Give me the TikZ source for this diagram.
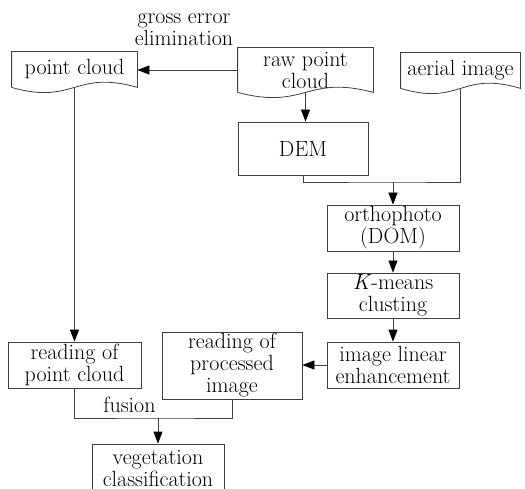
\documentclass[tikz,border=0pt]{standalone}
\usetikzlibrary{arrows.meta,calc}

% document shape: straight top, wavy bottom
\newcommand\docwave[1]{%
  \draw (#1.south west) -- (#1.north west) -- (#1.north east) -- (#1.south east)
    .. controls ($(#1.south)+(0,-18)$) and ($(#1.south)+(0,18)$) .. (#1.south west);}

\begin{document}
\begin{tikzpicture}[
    x=1pt, y=-1pt,
    >={Triangle[length=12pt,width=9pt,color=black]},
    line width=0.8pt,
    color=black!75,
    every node/.style={text=black, font=\fontsize{22}{22}\selectfont, align=center, inner sep=1pt},
    box/.style={draw, rectangle},
    lbl/.style={}
]
  \useasboundingbox (0,0) rectangle (525,489);

  % documents
  \node[minimum width=125, minimum height=35] (pc) at (74.5,69.5) {point cloud};
  \node[minimum width=135, minimum height=44] (raw) at (305.5,70) {raw point\\cloud};
  \node[minimum width=119, minimum height=35] (aerial) at (460.5,70.5) {aerial image};
  \docwave{pc}
  \docwave{raw}
  \docwave{aerial}

  % boxes
  \node[box, minimum width=130, minimum height=53] (DEM) at (303,148.5) {DEM};
  \node[box, minimum width=132, minimum height=46] (ortho) at (393,228) {orthophoto\\(DOM)};
  \node[box, minimum width=132, minimum height=45] (kmeans) at (393,295.5) {\textit{K}-means\\clusting};
  \node[box, minimum width=132, minimum height=46] (enh) at (393,365) {image linear\\enhancement};
  \node[box, minimum width=140, minimum height=67] (proc) at (232,365.5) {reading of\\processed\\image};
  \node[box, minimum width=133, minimum height=46] (rpc) at (74.5,365) {reading of\\point cloud};
  \node[box, minimum width=132, minimum height=48] (veg) at (158,468) {vegetation\\classification};

  % labels
  \node[lbl] (gross) at (184,30) {gross error\\elimination};
  \node[lbl] (fusion) at (129.5,405) {fusion};

  % edges
  \coordinate (jn) at (393,182);
  \coordinate (fu) at (158,418);
  \draw[->] (raw.west) -- (pc.east |- raw.west);
  \draw[->] (raw.south) -- (raw.south |- DEM.north);
  \draw (DEM.south) |- (jn) -| (aerial.south);
  \draw[->] (jn) -- (ortho.north);
  \draw[->] (ortho.south) -- (kmeans.north);
  \draw[->] (kmeans.south) -- (enh.north);
  \draw[->] (enh.west) -- (proc.east |- enh.west);
  \draw[->] (pc.south) -- (rpc.north);
  \draw (rpc.south) |- (fu) -| (proc.south);
  \draw[->] (fu) -- (veg.north);
\end{tikzpicture}
\end{document}
